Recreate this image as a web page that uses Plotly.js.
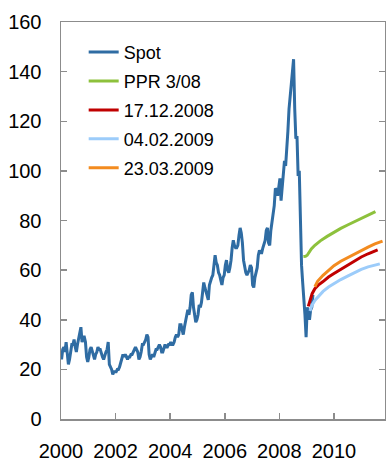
<!DOCTYPE html>
<html>
<head>
<meta charset="utf-8">
<script src="https://cdn.plot.ly/plotly-3.0.1.min.js"></script>
<style>
  html, body { margin: 0; padding: 0; background: #ffffff; }
  #chart { width: 386px; height: 461px; }
</style>
</head>
<body>
<div id="chart"></div>
<script>
// ---- Data (USD per barrel) ----
// Spot: two readings per month, Jan 2000 .. Mar 2009
var spotStartYear = 2000;
var spotPointsPerYear = 24;
var spotValues = [
  // 2000
  24, 28, 29, 27, 31, 25, 22, 24, 27, 30, 30, 32, 29, 27, 30, 32, 34, 37, 31, 33, 33, 31, 25, 23,
  // 2001
  25, 28, 29, 27, 25, 24, 26, 27, 29, 28, 28, 26, 25, 24, 26, 27, 28, 31, 22, 21, 20, 18, 19, 19,
  // 2002
  19, 20, 20, 21, 23, 25, 26, 25, 26, 25, 24, 25, 25, 26, 26, 27, 28, 29, 28, 27, 24, 25, 27, 30,
  // 2003
  30, 31, 32, 34, 33, 26, 24, 25, 26, 25, 27, 28, 28, 29, 30, 29, 27, 27, 29, 30, 29, 29, 30, 30,
  // 2004
  31, 30, 30, 31, 33, 34, 33, 34, 38, 38, 36, 34, 37, 40, 42, 44, 42, 45, 50, 51, 45, 41, 39, 40,
  // 2005
  42, 46, 45, 47, 52, 55, 53, 51, 49, 48, 54, 56, 57, 58, 62, 66, 63, 62, 59, 58, 56, 54, 57, 58,
  // 2006
  62, 64, 60, 59, 61, 64, 69, 72, 70, 69, 69, 70, 74, 77, 75, 71, 64, 61, 59, 58, 59, 60, 62, 61,
  // 2007
  54, 53, 57, 59, 61, 66, 68, 67, 67, 69, 71, 72, 76, 77, 71, 70, 76, 79, 82, 86, 93, 92, 90, 94,
  // 2008
  97, 88, 93, 100, 104, 102, 108, 116, 125, 132, 135, 140, 145, 125, 113, 114, 98, 100, 77, 62, 55, 50, 42, 33,
  // 2009
  45, 42, 40, 44, 45, 50
];

// Futures curves (x = decimal year)
var pprX = [2008.88, 2008.96, 2009.02, 2009.10, 2009.17, 2009.30, 2009.50, 2009.75, 2010.00, 2010.25, 2010.50, 2010.75, 2011.00, 2011.25, 2011.40, 2011.52];
var pprY = [65.5, 65.6, 66.0, 67.3, 68.5, 70.0, 71.8, 73.6, 75.3, 76.8, 78.2, 79.6, 81.0, 82.3, 83.2, 83.6];

var dec17X = [2009.06, 2009.12, 2009.20, 2009.30, 2009.45, 2009.60, 2009.80, 2010.00, 2010.25, 2010.50, 2010.75, 2011.00, 2011.25, 2011.45, 2011.60];
var dec17Y = [45.4, 48.0, 50.5, 52.5, 54.2, 55.4, 57.2, 58.6, 60.3, 62.0, 63.8, 65.3, 66.6, 67.6, 68.2];

var feb04X = [2009.12, 2009.20, 2009.30, 2009.45, 2009.60, 2009.80, 2010.00, 2010.25, 2010.50, 2010.75, 2011.00, 2011.25, 2011.50, 2011.68];
var feb04Y = [43.5, 46.0, 47.8, 49.8, 51.4, 53.2, 54.6, 56.2, 57.6, 59.0, 60.3, 61.3, 62.1, 62.5];

var mar23X = [2009.30, 2009.40, 2009.60, 2009.80, 2010.00, 2010.25, 2010.50, 2010.75, 2011.00, 2011.25, 2011.50, 2011.78];
var mar23Y = [53.3, 55.5, 57.9, 60.0, 61.8, 63.6, 65.1, 66.6, 68.0, 69.3, 70.6, 71.7];

var seriesNames = ['Spot', 'PPR 3/08', '17.12.2008', '04.02.2009', '23.03.2009'];
var xTickVals = [2000, 2002, 2004, 2006, 2008, 2010];
var yTickVals = [0, 20, 40, 60, 80, 100, 120, 140, 160];

// ---- Build traces ----
var spotX = spotValues.map(function (v, i) {
  return spotStartYear + (i + 0.5) / spotPointsPerYear;
});

var colors = ['#2F6CA3', '#8DC13C', '#C00000', '#9CCCFA', '#F38B1F'];

function lineTrace(name, x, y, color, width, group) {
  return {
    type: 'scatter', mode: 'lines', name: name, x: x, y: y,
    line: { color: color, width: width },
    legendgroup: group, hoverinfo: 'skip'
  };
}

var traces = [
  lineTrace(seriesNames[0], spotX, spotValues, colors[0], 3, 'g0'),
  lineTrace(seriesNames[1], pprX, pprY, colors[1], 3, 'g1'),
  lineTrace(seriesNames[2], dec17X, dec17Y, colors[2], 3, 'g2'),
  lineTrace(seriesNames[3], feb04X, feb04Y, colors[3], 3, 'g3'),
  lineTrace(seriesNames[4], mar23X, mar23Y, colors[4], 3, 'g4')
];

var axisColor = '#8C8C8C';
var layout = {
  width: 386, height: 461,
  margin: { l: 61, r: 1, t: 22, b: 42, pad: 0 },
  paper_bgcolor: '#ffffff', plot_bgcolor: '#ffffff',
  font: { family: 'Liberation Sans, Arial, sans-serif', color: '#000000', size: 20 },
  showlegend: true,
  legend: {
    x: 0.07, y: 0.97, xanchor: 'left', yanchor: 'top',
    bgcolor: 'rgba(0,0,0,0)', borderwidth: 0,
    font: { size: 18, color: '#000000' },
    traceorder: 'grouped', tracegroupgap: 2.5
  },
  xaxis: {
    range: [2000, 2011.87], tickmode: 'array', tickvals: xTickVals,
    ticktext: xTickVals.map(String),
    ticks: 'inside', ticklen: 6, tickwidth: 1.5, tickcolor: axisColor,
    showline: true, linecolor: axisColor, linewidth: 1.5, mirror: true,
    showgrid: false, zeroline: false, ticklabelstandoff: 13,
    tickfont: { size: 20 }
  },
  yaxis: {
    range: [0, 160], tickmode: 'array', tickvals: yTickVals,
    ticks: 'inside', ticklen: 6, tickwidth: 1.5, tickcolor: axisColor,
    showline: true, linecolor: axisColor, linewidth: 1.5, mirror: 'ticks',
    showgrid: false, zeroline: false, ticklabelstandoff: 14,
    tickfont: { size: 20 }
  }
};

Plotly.newPlot('chart', traces, layout, { staticPlot: true, displayModeBar: false });
</script>
</body>
</html>
